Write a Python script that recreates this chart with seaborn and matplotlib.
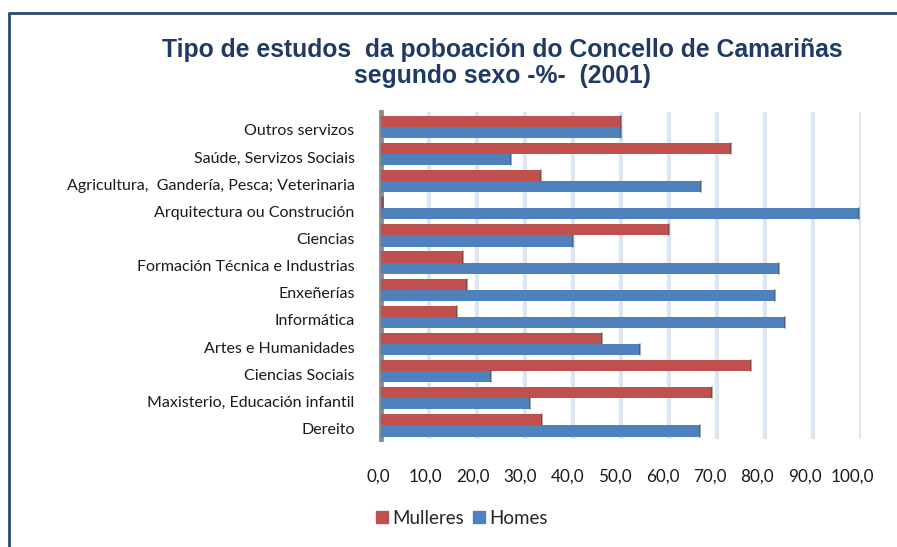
import pandas as pd
import matplotlib
matplotlib.use("Agg")
import matplotlib.pyplot as plt
from matplotlib.transforms import ScaledTranslation
import seaborn as sns

# data (percent by sex, per type of studies)
categories = ['Outros servizos', 'Saúde, Servizos Sociais',
              'Agricultura,  Gandería, Pesca; Veterinaria',
              'Arquitectura ou Construción', 'Ciencias',
              'Formación Técnica e Industrias', 'Enxeñerías', 'Informática',
              'Artes e Humanidades', 'Ciencias Sociais',
              'Maxisterio, Educación infantil', 'Dereito']
mulleres = [50.0, 73.0, 33.3, 0.5, 60.0, 17.0, 18.0, 15.8, 46.0, 77.0, 69.0, 33.5]
homes = [50.0, 27.0, 66.7, 99.5, 40.0, 83.0, 82.0, 84.2, 54.0, 23.0, 31.0, 66.5]
series = ['Mulleres', 'Homes']
xticks = [0, 10, 20, 30, 40, 50, 60, 70, 80, 90, 100]

df = pd.DataFrame({'Tipo': categories * 2,
                   'Valor': mulleres + homes,
                   'Sexo': [series[0]] * len(categories) + [series[1]] * len(categories)})

sns.set_theme(style='white')
plt.rcParams['font.family'] = ['Lato', 'DejaVu Sans']

fig = plt.figure(figsize=(8.97, 5.47), dpi=100)
ax = fig.add_axes([381 / 897, 1 - 439 / 547, 480 / 897, 327 / 547])

palette = {'Mulleres': '#C0504D', 'Homes': '#4F81BD'}
sns.barplot(data=df, x='Valor', y='Tipo', hue='Sexo', hue_order=series,
            palette=palette, orient='h', width=0.82, saturation=1,
            edgecolor='none', legend=False, ax=ax, zorder=3)

# darker ends on bars, a bit like the 3D look
for bar in ax.patches:
    ax.plot([bar.get_x() + bar.get_width()] * 2,
            [bar.get_y(), bar.get_y() + bar.get_height()],
            color='#3a3a3a', lw=1.2, alpha=0.5, zorder=4)

ax.set_xlim(0, 100)
ax.set_ylim(11.5, -0.55)
ax.set_xticks(xticks)
ax.set_xticklabels([f'{v:.1f}'.replace('.', ',') for v in xticks])
ax.xaxis.grid(True, color='#DCE6F2', lw=3, zorder=0)
ax.yaxis.grid(False)
ax.set_xlabel('')
ax.set_ylabel('')
for s in ['top', 'right', 'bottom']:
    ax.spines[s].set_visible(False)
ax.spines['left'].set_color('#8c8c8c')
ax.spines['left'].set_linewidth(3.5)
ax.tick_params(axis='y', length=0, pad=19, labelsize=11.5, colors='#1a1a1a')
ax.tick_params(axis='x', length=0, pad=21, labelsize=12.3, colors='#1a1a1a')
# category labels sit a little lower than the bar pairs
for lab in ax.get_yticklabels():
    lab.set_transform(lab.get_transform() + ScaledTranslation(0, -0.03, fig.dpi_scale_trans))
# the 3D view pushes the value labels slightly left, more so to the right
for i, lab in enumerate(ax.get_xticklabels()):
    lab.set_transform(lab.get_transform() + ScaledTranslation(-(3 + 0.6 * i) / 100, 0, fig.dpi_scale_trans))

# legend
handles = [plt.Rectangle((0, 0), 1, 1, color=palette[s]) for s in series]
fig.legend(handles, series, loc='center', bbox_to_anchor=(462 / 897, 1 - 518 / 547),
           ncol=2, frameon=False, fontsize=13.5, handlelength=0.6, handleheight=0.6,
           handletextpad=0.25, columnspacing=0.5)

fig.text(502 / 897, 1 - 63 / 547,
         'Tipo de estudos  da poboación do Concello de Camariñas\nsegundo sexo -%-  (2001)',
         ha='center', va='center', fontsize=17.8, fontweight='bold', color='#1F3B63',
         family='Liberation Sans', linespacing=1.15)

# frame line on left and top
fig.add_artist(plt.Line2D([9 / 897, 9 / 897], [0, 1 - 13 / 547], color='#2E4A70', lw=2))
fig.add_artist(plt.Line2D([9 / 897, 1], [1 - 13 / 547, 1 - 13 / 547], color='#2E4A70', lw=2))

fig.savefig('out.png', dpi=100)
